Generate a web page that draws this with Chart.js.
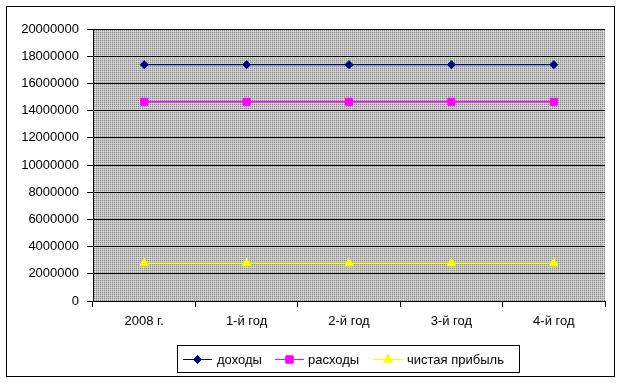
<!DOCTYPE html>
<html>
<head>
<meta charset="utf-8">
<script src="https://cdn.jsdelivr.net/npm/chart.js@4/dist/chart.umd.min.js"></script>
<style>
html,body{margin:0;padding:0;background:#fff;}
#wrap{width:622px;height:383px;position:relative;}
</style>
</head>
<body>
<div id="wrap"><canvas id="c" width="622" height="383"></canvas></div>
<script>
const categories = ['2008 г.', '1-й год', '2-й год', '3-й год', '4-й год'];
const seriesNames = ['доходы', 'расходы', 'чистая прибыль'];
const incomeValues = [17380000, 17380000, 17380000, 17380000, 17380000];
const expenseValues = [14650000, 14650000, 14650000, 14650000, 14650000];
const profitValues = [2770000, 2770000, 2770000, 2770000, 2770000];
const yTicks = [0, 2000000, 4000000, 6000000, 8000000, 10000000, 12000000, 14000000, 16000000, 18000000, 20000000];

const FONT = '"Liberation Sans", Arial, sans-serif';

function makePattern(ctx) {
  const p = document.createElement('canvas');
  p.width = 2; p.height = 2;
  const g = p.getContext('2d');
  g.fillStyle = '#c4c4c4'; g.fillRect(0,0,2,2);
  g.fillStyle = '#8a8a8a'; g.fillRect(0,0,1,1);
  g.fillStyle = '#d8d8d8'; g.fillRect(1,1,1,1);
  return ctx.createPattern(p, 'repeat');
}

const bgPlugin = {
  id: 'bgPlugin',
  beforeDraw(chart) {
    const ctx = chart.ctx, a = chart.chartArea;
    ctx.save();
    ctx.fillStyle = '#fff';
    ctx.fillRect(0, 0, chart.width, chart.height);
    ctx.fillStyle = makePattern(ctx);
    ctx.fillRect(a.left, a.top, a.right - a.left, a.bottom - a.top);
    ctx.strokeStyle = '#000';
    ctx.lineWidth = 1;
    ctx.strokeRect(6.5, 6.5, 608, 370);
    ctx.restore();
  },
  afterDraw(chart) {
    const ctx = chart.ctx;
    ctx.save();
    ctx.strokeStyle = '#000';
    ctx.lineWidth = 1;
    ctx.strokeRect(177.5, 345.5, 342, 27);
    const items = [
      {x1: 183, x2: 212, tx: 217},
      {x1: 275, x2: 304, tx: 308},
      {x1: 373, x2: 403, tx: 407}
    ];
    const y = 359;
    chart.data.datasets.forEach((ds, i) => {
      const it = items[i];
      ctx.strokeStyle = ds.borderColor;
      ctx.lineWidth = 1;
      ctx.beginPath();
      ctx.moveTo(it.x1, y + 0.5);
      ctx.lineTo(it.x2, y + 0.5);
      ctx.stroke();
      Chart.helpers.drawPoint(ctx, {
        pointStyle: ds.pointStyle, radius: ds.pointRadius, borderWidth: 1, rotation: 0
      }, (it.x1 + it.x2) / 2, y + 0.5);
      ctx.fillStyle = ds.borderColor;
      ctx.strokeStyle = ds.borderColor;
      ctx.fill();
      ctx.stroke();
      ctx.fillStyle = '#000';
      ctx.font = '13px ' + FONT;
      ctx.textBaseline = 'middle';
      ctx.textAlign = 'left';
      ctx.fillText(ds.label, it.tx, y + 1);
    });
    ctx.restore();
  }
};

const colors = ['#000080', '#ff00ff', '#ffff00'];
const styles = ['rectRot', 'rect', 'triangle'];
const radii = [4, 5, 5];
const values = [incomeValues, expenseValues, profitValues];

new Chart(document.getElementById('c'), {
  type: 'line',
  data: {
    labels: categories,
    datasets: seriesNames.map((name, i) => ({
      label: name,
      data: values[i],
      borderColor: colors[i],
      backgroundColor: colors[i],
      borderWidth: 1.3,
      pointStyle: styles[i],
      pointRadius: radii[i],
      pointBorderWidth: 1,
      pointBackgroundColor: colors[i],
      pointBorderColor: colors[i],
      fill: false,
      tension: 0
    }))
  },
  options: {
    responsive: false,
    animation: false,
    layout: { padding: { top: 29, right: 17, left: 0, bottom: 0 } },
    plugins: { legend: { display: false }, tooltip: { enabled: false } },
    scales: {
      x: {
        offset: true,
        grid: { display: true, drawOnChartArea: false, drawTicks: true, tickLength: 6, color: '#000', offset: true },
        border: { display: true, color: '#000' },
        ticks: { color: '#000', font: { family: FONT, size: 13 }, padding: 7, maxRotation: 0 },
        afterFit(s) { s.height = 82; }
      },
      y: {
        min: 0, max: 20000000,
        afterBuildTicks(s) { s.ticks = yTicks.map(v => ({ value: v })); },
        grid: { color: '#000', tickLength: 6, drawTicks: true },
        border: { display: true, color: '#000' },
        ticks: { color: '#000', font: { family: FONT, size: 13 }, padding: 8, callback: v => String(v) },
        afterFit(s) { s.width = 93; }
      }
    }
  },
  plugins: [bgPlugin]
});
</script>
</body>
</html>
